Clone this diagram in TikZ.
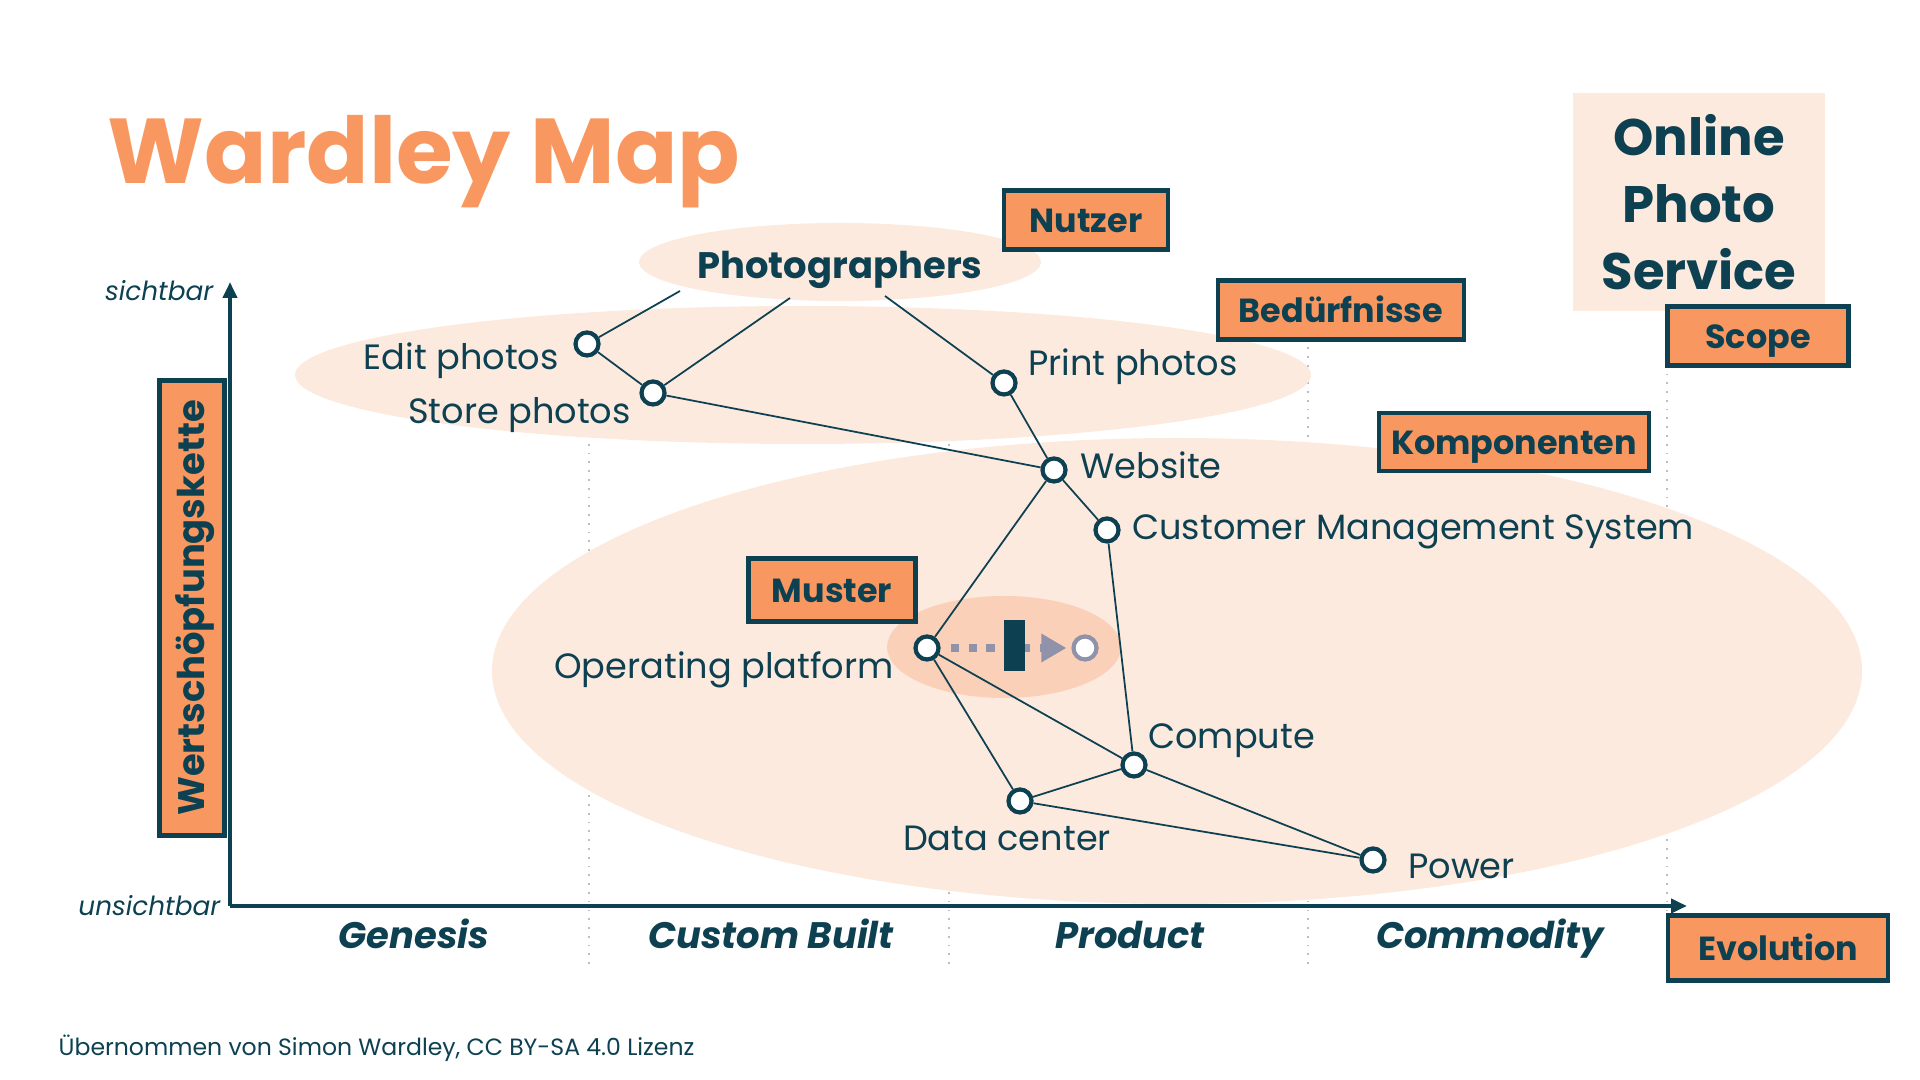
\documentclass[tikz,border=0pt]{standalone}
\usepackage{fontspec}
\setmainfont{Poppins}
\usetikzlibrary{arrows.meta,positioning,calc}
\definecolor{petrol}{RGB}{13,65,82}
\definecolor{apricot}{RGB}{248,152,96}
\definecolor{peach}{RGB}{253,234,222}
\definecolor{peachdark}{RGB}{250,208,185}
\definecolor{slate}{RGB}{143,146,168}
\definecolor{dotgray}{RGB}{190,190,190}

\begin{document}
\begin{tikzpicture}

		\tikzset{line/.style={draw=petrol,line width=0.5pt}}
		\tikzset{comp/.style={shape=circle,draw=petrol,fill=white,line width=1.2pt,minimum size=0.23cm,inner sep=0pt}}
		\tikzset{txt/.style={text=petrol,inner sep=0pt,font=\fontsize{10}{12}\selectfont}}
		\tikzset{badge/.style={draw=petrol,fill=apricot,line width=1.4pt,text=petrol,inner sep=0pt,text height=0.7em,text depth=0pt,font=\bfseries\fontsize{9.5}{11}\selectfont}}
		\tikzset{blob/.style={fill=peach}}
		\tikzset{stage/.style={text=petrol,anchor=base,font=\bfseries\itshape\fontsize{10.5}{12}\selectfont}}
		\tikzset{grid/.style={draw=dotgray,line width=0.5pt,dotted}}

		\useasboundingbox (0,0) rectangle (19.2,10.8);

		% title and scope
		\node[anchor=base west,inner sep=0pt,text=apricot,font=\bfseries\fontsize{26.2}{30}\selectfont] (title) at (1.07,8.96) {Wardley Map};
		\node[fill=peach,text=petrol,minimum width=2.52cm,minimum height=2.18cm,align=center,font=\bfseries\fontsize{14.6}{19}\selectfont] (service) at (16.99,8.78) {Online\\Photo\\Service};

		% evolution stages
		\foreach \x in {5.89,9.49,13.08,16.67}
			\path[grid] (\x,1.16) -- (\x,7.6);

		% areas
		\path[blob] (8.40,8.18) ellipse [x radius=2.01, y radius=0.39];
		\path[blob] (8.03,7.05) ellipse [x radius=5.08, y radius=0.69];
		\path[blob] (11.77,4.09) ellipse [x radius=6.85, y radius=2.33];
		\path[fill=peachdark] (10.04,4.33) ellipse [x radius=1.17, y radius=0.51];

		% axes
		\coordinate (origin) at (2.30,1.74);
		\coordinate (top) at (2.30,7.98);
		\coordinate (right) at (16.87,1.74);
		\draw[petrol,line width=1.3pt,-{Triangle[length=0.16cm,width=0.14cm]}] (origin) -- (top);
		\draw[petrol,line width=1.3pt,-{Triangle[length=0.16cm,width=0.14cm]}] (origin) -- (right);
		\node[txt,anchor=east,font=\itshape\fontsize{7.5}{9}\selectfont] (visible) at (2.14,7.89) {sichtbar};
		\node[txt,anchor=east,font=\itshape\fontsize{7.5}{9}\selectfont] (invisible) at (2.21,1.74) {unsichtbar};

		\node[stage] (genesis) at (4.14,1.31) {Genesis};
		\node[stage] (custom) at (7.71,1.31) {Custom Built};
		\node[stage] (product) at (11.30,1.31) {Product};
		\node[stage] (commodity) at (14.90,1.31) {Commodity};

		% components
		\node[txt,font=\bfseries\fontsize{10.5}{13}\selectfont] (ph) at (8.40,8.10) {Photographers};
		\coordinate (ph1) at (6.80,7.89);
		\coordinate (ph2) at (7.90,7.82);
		\coordinate (ph3) at (8.85,7.84);

		\node[comp] (edit) at (5.87,7.36) {};
		\node[comp] (store) at (6.53,6.87) {};
		\node[comp] (print) at (10.04,6.97) {};
		\node[comp] (web) at (10.54,6.10) {};
		\node[comp] (cms) at (11.07,5.50) {};
		\node[comp] (op) at (9.27,4.32) {};
		\node[comp,draw=slate] (opnext) at (10.85,4.32) {};
		\node[comp] (compute) at (11.34,3.15) {};
		\node[comp] (dc) at (10.20,2.79) {};
		\node[comp] (power) at (13.73,2.20) {};

		\node[txt,left=0.14cm of edit,yshift=-0.17cm] {Edit photos};
		\node[txt,left=0.08cm of store,yshift=-0.22cm] {Store photos};
		\node[txt,right=0.10cm of print,yshift=0.16cm] {Print photos};
		\node[txt,right=0.12cm of web,yshift=0.05cm] {Website};
		\node[txt,right=0.11cm of cms,yshift=-0.02cm] {Customer Management System};
		\node[txt,left=0.19cm of op,yshift=-0.22cm] {Operating platform};
		\node[txt,right=0cm of compute,yshift=0.24cm] {Compute};
		\node[txt,below=0.11cm of dc,xshift=-0.13cm] {Data center};
		\node[txt,right=0.21cm of power,yshift=-0.06cm] {Power};

		\path[line] (ph1) to (edit);
		\path[line] (ph2) to (store);
		\path[line] (ph3) to (print);
		\path[line] (edit) to (store);
		\path[line] (store) to (web);
		\path[line] (print) to (web);
		\path[line] (web) to (cms);
		\path[line] (web) to (op);
		\path[line] (cms) to (compute);
		\path[line] (op) to (compute);
		\path[line] (op) to (dc);
		\path[line] (dc) to (compute);
		\path[line] (dc) to (power);
		\path[line] (compute) to (power);

		% evolution with inertia
		\draw[slate,line width=2.3pt,dash pattern=on 2.3pt off 2.8pt,shorten <=0.1cm,shorten >=0.05cm,-{Triangle[length=0.25cm,width=0.27cm]}] (op) -- (opnext);
		\node[fill=petrol,minimum width=0.21cm,minimum height=0.51cm,inner sep=0pt] (inertia) at (10.14,4.34) {};

		% legend badges
		\node[badge,minimum width=1.64cm,minimum height=0.59cm] (users) at (10.86,8.60) {Nutzer};
		\node[badge,minimum width=2.46cm,minimum height=0.59cm] (needs) at (13.41,7.70) {Bedürfnisse};
		\node[badge,minimum width=2.70cm,minimum height=0.58cm] (parts) at (15.14,6.38) {Komponenten};
		\node[badge,minimum width=1.67cm,minimum height=0.63cm] (pattern) at (8.32,4.90) {Muster};
		\node[badge,minimum width=1.81cm,minimum height=0.59cm] (scope) at (17.58,7.44) {Scope};
		\node[badge,minimum width=2.20cm,minimum height=0.65cm] (evolution) at (17.78,1.32) {Evolution};
		\node[badge,rotate=90,minimum width=4.55cm,minimum height=0.65cm,font=\bfseries\fontsize{10.5}{12}\selectfont] (chain) at (1.92,4.72) {Wertschöpfungskette};

		\node[txt,anchor=west,font=\fontsize{6.7}{8}\selectfont] (credit) at (0.58,0.32) {Übernommen von Simon Wardley, CC BY-SA 4.0 Lizenz};

	\end{tikzpicture}
\end{document}
